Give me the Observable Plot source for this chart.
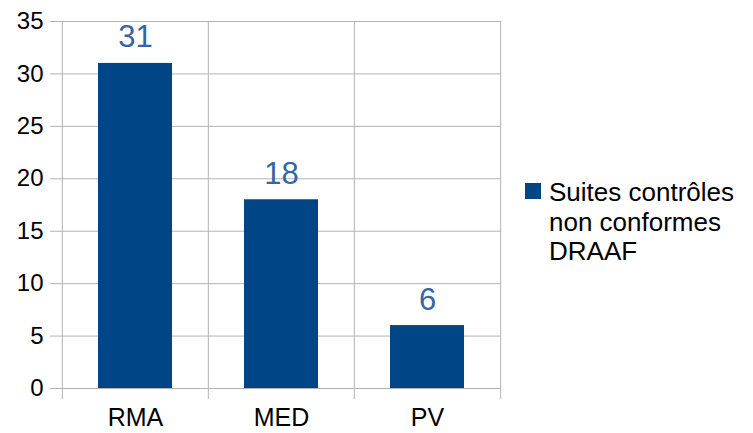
<!DOCTYPE html>
<html>
<head>
<meta charset="utf-8">
<script src="https://cdn.jsdelivr.net/npm/d3@7"></script>
<script src="https://cdn.jsdelivr.net/npm/@observablehq/plot@0.6"></script>
<style>
  html, body { margin: 0; padding: 0; background: #fff; }
  #wrap { position: relative; width: 753px; height: 433px; font-family: "Liberation Sans", Arial, sans-serif; }
  #legend { position: absolute; left: 525px; top: 178px; font-size: 26px; line-height: 29.5px; color: #000; }
  #legend .sw { position: absolute; left: 0; top: 5px; width: 16px; height: 16px; background: #004586; }
  #legend .tx { position: absolute; left: 24px; top: 0; white-space: nowrap; }
</style>
</head>
<body>
<div id="wrap"><div id="legend"></div></div>
<script>
const categories = ["RMA", "MED", "PV"];
const values = [31, 18, 6];
const seriesName = ["Suites contrôles", "non conformes", "DRAAF"];
const yTicks = [0, 5, 10, 15, 20, 25, 30, 35];

const data = categories.map((c, i) => ({cat: c, value: values[i]}));

const W = 753, H = 433;
const mL = 62, mR = 252, mT = 21, mB = 45;
const step = (W - mL - mR) / categories.length;
const grid = "#b3b3b3";

const chart = Plot.plot({
  width: W,
  height: H,
  marginLeft: mL,
  marginRight: mR,
  marginTop: mT,
  marginBottom: mB,
  style: {fontFamily: "Liberation Sans, Arial, sans-serif", fontSize: "24px", color: "#000", background: "transparent"},
  x: {domain: categories, paddingInner: 0.49, paddingOuter: 0.245, label: null},
  y: {domain: [0, 35], label: null},
  marks: [
    Plot.gridY(yTicks, {stroke: grid, strokeOpacity: 1}),
    Plot.axisY(yTicks, {tickSize: 12, tickPadding: 7, stroke: grid, strokeOpacity: 1, fontSize: 24, fill: "#000", label: null}),
    Plot.ruleX(categories, {x: d => d, y1: 35, y2: 0, dx: -step / 2, insetBottom: -11, stroke: grid}),
    Plot.ruleX(categories.slice(-1), {x: d => d, y1: 35, y2: 0, dx: step / 2, insetBottom: -11, stroke: grid}),
    Plot.barY(data, {x: "cat", y: "value", fill: "#004586"}),
    Plot.text(data, {x: "cat", y: "value", text: d => String(d.value), dy: -16, lineAnchor: "bottom", fill: "#3465a4", fontSize: 31}),
    Plot.axisX({tickSize: 0, tickPadding: 20, fontSize: 25, fill: "#000", label: null})
  ]
});
document.getElementById("wrap").prepend(chart);

const lg = document.getElementById("legend");
const sw = document.createElement("div"); sw.className = "sw"; lg.appendChild(sw);
const tx = document.createElement("div"); tx.className = "tx";
tx.innerHTML = seriesName.join("<br>");
lg.appendChild(tx);
</script>
</body>
</html>
